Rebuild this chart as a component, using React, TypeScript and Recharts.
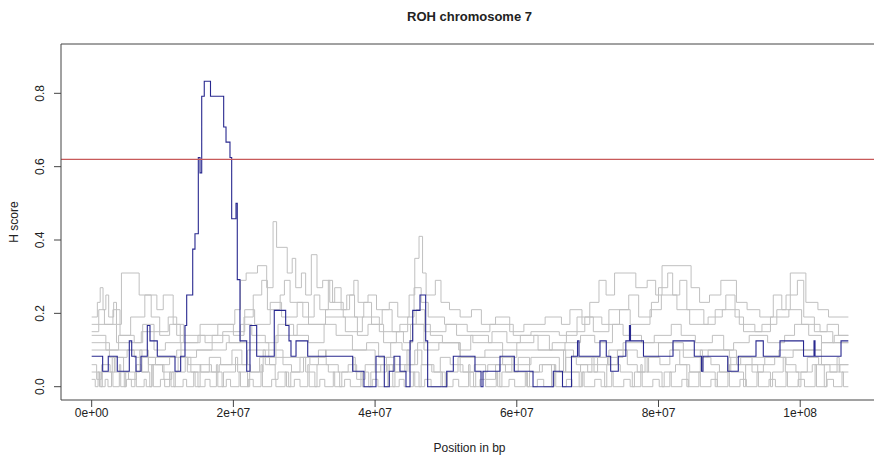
import { Line, LineChart, ReferenceLine, XAxis, YAxis } from "recharts";

// positions in Mb, values are H scores
const X_TICKS = [0, 20, 40, 60, 80, 100];
const Y_TICKS = [0, 0.2, 0.4, 0.6, 0.8];
const X_DOMAIN = [-4.33, 110.98];
const Y_DOMAIN = [-0.0363, 0.9345];
const THRESHOLD = 0.62;

const bluePos = [
  0, 1.55, 2.34, 3.61, 5.31, 5.65, 6.25, 6.96, 7.85, 8.23, 9.26, 11.76, 12.56, 13.17, 13.41, 14.26,
  14.58, 15.05, 15.29, 15.53, 15.89, 16.77, 18.63, 18.96, 19.52, 19.76, 20.37, 20.55, 20.93, 21.88,
  22.34, 23.29, 25.77, 27.38, 27.85, 28.13, 28.84, 30.49, 36.84, 38.43, 40.13, 41.3, 42.0, 42.67,
  43.51, 44.36, 44.93, 45.31, 46.34, 47.14, 47.42, 50.11, 51.04, 54.1, 54.95, 55.23, 57.63, 59.65,
  62.29, 65.15, 66.45, 67.72, 68.57, 68.78, 71.74, 72.63, 73.25, 74.33, 75.39, 75.9, 76.05, 77.88,
  82.05, 85.05, 86.07, 86.28, 89.77, 91.26, 93.76, 94.79, 97.15, 100.47, 101.95, 102.09, 105.76,
  106.79,
];
const blueVal = [
  0.083, 0.042, 0.083, 0.042, 0.125, 0.083, 0.042, 0.083, 0.167, 0.125, 0.083, 0.042, 0.083, 0.167,
  0.25, 0.375, 0.417, 0.625, 0.583, 0.792, 0.833, 0.792, 0.708, 0.667, 0.625, 0.458, 0.5, 0.292,
  0.125, 0.042, 0.167, 0.083, 0.208, 0.167, 0.125, 0.083, 0.125, 0.083, 0.042, 0, 0.083, 0, 0.042,
  0.083, 0.042, 0, 0.125, 0.208, 0.25, 0.125, 0, 0.042, 0.083, 0.042, 0, 0.042, 0.083, 0.042, 0,
  0.042, 0, 0.083, 0.125, 0.083, 0.125, 0.083, 0.042, 0.083, 0.125, 0.167, 0.125, 0.083, 0.125,
  0.083, 0.042, 0.083, 0.042, 0.083, 0.125, 0.083, 0.125, 0.083, 0.125, 0.083, 0.125, 0.125,
];

const greyAPos = [
  0, 0.8, 1.2, 1.6, 2.0, 2.4, 3.1, 3.5, 4.2, 6.7, 9.2, 10.1, 11.5, 12.5, 15.3, 20.2, 21.0, 21.8,
  23.4, 24.7, 25.6, 26.1, 27.6, 28.3, 28.8, 29.6, 30.2, 31.0, 31.8, 32.6, 33.6, 34.3, 35.2, 36.4,
  37.1, 38.4, 39.5, 41.0, 42.4, 44.0, 45.3, 46.9, 49.0, 52.0, 55.5, 58.0, 62.0, 66.0, 69.0, 73.0,
  77.0, 80.0, 83.5, 87.0, 91.0, 95.0, 99.0, 103.0, 106.8,
];
const greyAVal = [
  0.19, 0.23, 0.27, 0.21, 0.25, 0.19, 0.23, 0.17, 0.31, 0.25, 0.21, 0.25, 0.17, 0.12, 0.17, 0.21,
  0.29, 0.31, 0.33, 0.27, 0.45, 0.38, 0.31, 0.35, 0.27, 0.31, 0.25, 0.36, 0.27, 0.29, 0.23, 0.27,
  0.21, 0.25, 0.19, 0.23, 0.17, 0.21, 0.15, 0.12, 0.17, 0.1, 0.12, 0.08, 0.1, 0.06, 0.08, 0.04,
  0.06, 0.1, 0.08, 0.12, 0.08, 0.1, 0.06, 0.08, 0.1, 0.06, 0.06,
];

const greyBPos = [
  0, 2.5, 5.0, 8.0, 11.0, 14.0, 18.0, 22.0, 26.0, 29.0, 33.0, 36.0, 37.0, 37.6, 39.0, 40.2, 42.0,
  43.2, 44.8, 45.6, 46.2, 46.7, 47.2, 48.5, 49.3, 50.5, 52.0, 53.6, 55.0, 57.0, 59.0, 61.0, 64.0,
  66.3, 67.5, 69.2, 70.3, 71.6, 72.6, 73.8, 76.8, 78.4, 79.6, 80.5, 84.6, 85.8, 87.2, 88.8, 91.0,
  92.5, 94.3, 96.2, 97.4, 98.6, 100.8, 102.5, 104.0, 106.8,
];
const greyBVal = [
  0.12, 0.08, 0.1, 0.06, 0.08, 0.04, 0.06, 0.1, 0.14, 0.17, 0.21, 0.25, 0.29, 0.23, 0.25, 0.21, 0.23,
  0.19, 0.25, 0.35, 0.41, 0.31, 0.25, 0.29, 0.23, 0.21, 0.19, 0.21, 0.17, 0.19, 0.15, 0.17, 0.19,
  0.17, 0.21, 0.17, 0.23, 0.29, 0.25, 0.31, 0.27, 0.29, 0.25, 0.33, 0.27, 0.23, 0.25, 0.29, 0.23,
  0.21, 0.19, 0.25, 0.21, 0.31, 0.23, 0.21, 0.19, 0.19,
];

const greyCPos = [
  0, 1.0, 1.8, 3.0, 4.0, 5.5, 7.5, 8.4, 9.6, 11.0, 13.0, 15.0, 17.8, 20.0, 21.5, 22.8, 24.0, 24.8,
  26.6, 27.2, 28.0, 29.8, 31.4, 32.2, 33.4, 34.0, 35.5, 37.5, 39.0, 41.2, 43.0, 44.6, 45.5, 46.5,
  47.5, 49.8, 51.5, 53.8, 56.5, 58.6, 60.5, 63.0, 65.0, 67.0, 69.6, 72.0, 74.5, 75.8, 77.2, 79.0,
  80.0, 81.3, 82.0, 83.0, 84.0, 86.4, 88.0, 89.5, 90.8, 92.0, 94.6, 96.7, 98.0, 99.6, 100.5, 102.0,
  103.8, 105.4, 106.8,
];
const greyCVal = [
  0.15, 0.21, 0.17, 0.21, 0.14, 0.19, 0.25, 0.19, 0.14, 0.17, 0.12, 0.14, 0.17, 0.14, 0.19, 0.25,
  0.29, 0.21, 0.25, 0.29, 0.23, 0.19, 0.25, 0.21, 0.29, 0.23, 0.19, 0.14, 0.17, 0.12, 0.15, 0.19,
  0.27, 0.23, 0.19, 0.17, 0.14, 0.12, 0.15, 0.12, 0.14, 0.1, 0.12, 0.15, 0.19, 0.17, 0.21, 0.25,
  0.19, 0.23, 0.27, 0.31, 0.25, 0.29, 0.21, 0.17, 0.21, 0.25, 0.19, 0.15, 0.17, 0.21, 0.25, 0.29,
  0.19, 0.15, 0.17, 0.14, 0.14,
];

const greyDPos = [
  0, 2.0, 3.8, 6.0, 7.2, 8.8, 10.4, 12.6, 14.8, 17.0, 19.4, 21.0, 22.6, 24.5, 26.3, 28.5, 30.6,
  32.8, 34.5, 36.8, 38.8, 40.5, 42.2, 43.8, 45.0, 47.8, 49.5, 51.8, 53.5, 56.0, 58.0, 60.0, 62.4,
  64.6, 66.8, 69.0, 71.0, 73.5, 75.0, 77.6, 79.4, 81.8, 83.2, 85.2, 87.6, 89.2, 90.6, 92.8, 95.4,
  97.8, 99.2, 101.2, 103.0, 104.8, 106.8,
];
const greyDVal = [
  0.14, 0.1, 0.14, 0.12, 0.17, 0.1, 0.12, 0.08, 0.1, 0.14, 0.12, 0.17, 0.14, 0.12, 0.17, 0.14, 0.12,
  0.17, 0.14, 0.1, 0.12, 0.08, 0.12, 0.1, 0.17, 0.14, 0.12, 0.1, 0.14, 0.12, 0.1, 0.12, 0.14, 0.1,
  0.12, 0.14, 0.12, 0.17, 0.14, 0.12, 0.14, 0.17, 0.14, 0.12, 0.14, 0.1, 0.12, 0.14, 0.12, 0.14,
  0.17, 0.14, 0.12, 0.14, 0.14,
];

const greyEPos = [
  0, 0.7, 1.4, 2.6, 3.3, 4.5, 5.2, 6.3, 7.0, 8.0, 9.0, 10.2, 11.3, 12.2, 13.6, 15.4, 16.6, 18.2,
  19.8, 21.2, 22.4, 23.7, 25.1, 26.0, 27.0, 28.2, 29.4, 30.8, 32.0, 33.1, 34.8, 36.2, 37.4, 38.6,
  40.0, 41.6, 42.8, 44.2, 45.6, 46.6, 48.0, 49.2, 50.6, 52.4, 54.0, 55.6, 57.0, 58.4, 60.2, 61.8,
  63.6, 65.4, 66.9, 68.4, 70.0, 71.4, 72.8, 74.2, 75.6, 77.0, 78.6, 80.2, 81.6, 83.0, 84.4, 86.0,
  87.4, 88.6, 90.0, 91.6, 93.2, 94.8, 96.4, 98.0, 99.4, 101.0, 102.6, 104.2, 105.6, 106.8,
];
const greyEVal = [
  0.06, 0.02, 0.06, 0.04, 0.08, 0.04, 0.02, 0.06, 0.04, 0.08, 0.06, 0.02, 0.04, 0.08, 0.06, 0.04,
  0.08, 0.06, 0.1, 0.06, 0.04, 0.08, 0.06, 0.1, 0.06, 0.04, 0.08, 0.06, 0.1, 0.06, 0.04, 0.06, 0.02,
  0.06, 0.04, 0.08, 0.04, 0.06, 0.1, 0.06, 0.04, 0.08, 0.06, 0.04, 0.06, 0.02, 0.06, 0.04, 0.08,
  0.04, 0.06, 0.04, 0.08, 0.06, 0.04, 0.08, 0.06, 0.1, 0.06, 0.04, 0.08, 0.06, 0.1, 0.06, 0.04, 0.08,
  0.06, 0.04, 0.06, 0.08, 0.04, 0.06, 0.08, 0.06, 0.04, 0.08, 0.06, 0.04, 0.06, 0.06,
];

const greyFPos = [
  0, 0.5, 0.9, 1.1, 1.9, 2.3, 2.8, 3.0, 3.9, 4.1, 4.9, 5.6, 6.1, 6.3, 7.4, 7.7, 8.5, 8.7, 9.7, 10.3,
  11.0, 11.2, 12.9, 13.4, 14.4, 14.6, 16.0, 16.7, 17.6, 17.8, 19.0, 19.6, 20.8, 21.0, 22.1, 22.8,
  23.9, 24.1, 25.4, 26.0, 27.3, 27.5, 28.6, 29.4, 30.5, 30.7, 32.2, 32.9, 34.1, 34.3, 35.7, 36.5,
  38.0, 38.2, 39.6, 40.4, 41.8, 42.0, 43.4, 44.1, 45.4, 45.6, 47.0, 47.9, 49.3, 49.5, 51.0, 51.8,
  53.2, 53.4, 54.8, 55.6, 57.1, 57.3, 58.9, 59.7, 61.2, 61.4, 62.9, 63.8, 65.3, 65.5, 67.0, 67.8,
  69.3, 69.5, 71.0, 71.9, 73.4, 73.6, 75.1, 76.0, 77.5, 77.7, 79.2, 80.1, 81.6, 81.8, 83.3, 84.2,
  85.7, 85.9, 87.4, 88.3, 89.8, 90.0, 91.5, 92.4, 93.9, 94.1, 95.6, 96.5, 98.0, 98.2, 99.7, 100.6,
  102.1, 102.3, 103.8, 104.7, 105.9, 106.1, 106.8,
];
const greyFVal = [
  0.02, 0, 0.04, 0, 0.02, 0, 0.04, 0, 0.06, 0, 0.02, 0, 0.04, 0, 0.02, 0, 0.06, 0, 0.02, 0, 0.04, 0,
  0.02, 0, 0.04, 0, 0.02, 0, 0.06, 0, 0.02, 0, 0.04, 0, 0.02, 0, 0.06, 0, 0.02, 0, 0.04, 0, 0.02, 0,
  0.06, 0, 0.02, 0, 0.04, 0, 0.02, 0, 0.04, 0, 0.02, 0, 0.06, 0, 0.02, 0, 0.04, 0, 0.02, 0, 0.04, 0,
  0.02, 0, 0.06, 0, 0.02, 0, 0.04, 0, 0.02, 0, 0.04, 0, 0.02, 0, 0.06, 0, 0.02, 0, 0.04, 0, 0.02, 0,
  0.04, 0, 0.02, 0, 0.06, 0, 0.02, 0, 0.04, 0, 0.02, 0, 0.04, 0, 0.02, 0, 0.06, 0, 0.02, 0, 0.04, 0,
  0.02, 0, 0.04, 0, 0.02, 0, 0.06, 0, 0.02, 0, 0.04, 0, 0,
];

const greyGPos = [
  0, 1.3, 1.5, 2.9, 3.2, 4.6, 4.8, 6.8, 7.1, 8.2, 8.5, 10.0, 11.6, 11.8, 13.2, 13.5, 15.0, 15.3,
  16.9, 18.4, 18.6, 20.3, 20.6, 22.0, 22.3, 24.2, 24.5, 25.9, 26.3, 27.8, 28.1, 29.9, 30.2, 31.5,
  31.8, 33.4, 35.0, 35.3, 36.9, 37.2, 39.1, 39.4, 40.8, 42.5, 42.8, 44.5, 44.8, 46.2, 46.5, 48.3,
  49.9, 50.2, 51.7, 52.0, 53.9, 54.2, 55.9, 57.6, 57.9, 59.3, 59.6, 61.5, 61.8, 63.2, 64.9, 65.2,
  66.6, 66.9, 68.8, 69.1, 70.6, 70.9, 72.4, 72.7, 74.6, 76.3, 76.6, 78.1, 78.4, 80.5, 80.8, 82.4,
  84.0, 84.3, 85.9, 86.2, 88.0, 88.3, 89.9, 90.2, 92.0, 92.3, 94.0, 95.8, 96.1, 97.6, 97.9, 99.8,
  100.1, 101.7, 103.4, 103.7, 105.2, 105.5, 106.8,
];
const greyGVal = [
  0.04, 0, 0.04, 0.08, 0.04, 0, 0.04, 0.1, 0.04, 0, 0.06, 0.04, 0, 0.04, 0.08, 0.04, 0, 0.06, 0.04,
  0, 0.04, 0.08, 0.04, 0, 0.04, 0.1, 0.06, 0.02, 0.04, 0, 0.04, 0.08, 0.04, 0, 0.06, 0.04, 0, 0.04,
  0.08, 0.04, 0, 0.04, 0.06, 0, 0.04, 0.1, 0.04, 0, 0.06, 0.04, 0, 0.04, 0.08, 0.04, 0, 0.04, 0.06,
  0, 0.04, 0.08, 0.04, 0, 0.04, 0.06, 0, 0.04, 0.1, 0.04, 0, 0.04, 0.08, 0.04, 0, 0.06, 0.04, 0,
  0.04, 0.08, 0.04, 0, 0.04, 0.06, 0, 0.04, 0.1, 0.04, 0, 0.04, 0.08, 0.04, 0, 0.06, 0.04, 0, 0.04,
  0.08, 0.04, 0, 0.04, 0.06, 0, 0.04, 0.08, 0.04, 0.04,
];

const greyHPos = [0, 6.0, 12.0, 19.0, 25.0, 33.0, 40.0, 46.0, 52.0, 60.0, 68.0, 75.0, 82.0, 90.0, 97.0, 103.0, 106.8];
const greyHVal = [0.1, 0.08, 0.1, 0.12, 0.08, 0.1, 0.06, 0.12, 0.08, 0.1, 0.08, 0.12, 0.1, 0.08, 0.1, 0.12, 0.12];

const greyIPos = [
  0, 3.5, 7.0, 10.8, 12.0, 16.0, 18.5, 21.6, 23.0, 25.2, 26.8, 29.0, 30.6, 33.0, 35.8, 38.2, 40.6,
  43.5, 45.8, 47.0, 50.0, 53.0, 56.2, 59.5, 62.0, 66.0, 68.5, 70.8, 73.0, 76.0, 78.8, 80.4, 82.6,
  84.4, 87.0, 89.0, 91.4, 93.6, 95.8, 98.4, 100.2, 102.8, 104.6, 106.8,
];
const greyIVal = [
  0.17, 0.12, 0.15, 0.19, 0.14, 0.12, 0.15, 0.21, 0.17, 0.23, 0.19, 0.23, 0.17, 0.19, 0.15, 0.19,
  0.15, 0.17, 0.21, 0.15, 0.17, 0.15, 0.17, 0.14, 0.15, 0.14, 0.19, 0.15, 0.21, 0.17, 0.21, 0.25,
  0.21, 0.17, 0.19, 0.21, 0.17, 0.15, 0.19, 0.21, 0.17, 0.15, 0.12, 0.12,
];

const greySeries = [
  [greyHPos, greyHVal],
  [greyFPos, greyFVal],
  [greyGPos, greyGVal],
  [greyEPos, greyEVal],
  [greyDPos, greyDVal],
  [greyIPos, greyIVal],
  [greyCPos, greyCVal],
  [greyBPos, greyBVal],
  [greyAPos, greyAVal],
];

const FONT = "'Liberation Sans', Arial, sans-serif";
const INK = "#222";
const FRAME = "#444";

const toPoints = (pos: number[], val: number[]) => pos.map((x, i) => ({ x, y: val[i] }));

const formatX = (v: number) => {
  if (v === 0) return "0e+00";
  if (v >= 100) return `${v / 100}e+08`;
  return `${v / 10}e+07`;
};

function YTick({ x, y, payload }: any) {
  const tx = x - 12;
  return (
    <text
      x={tx}
      y={y}
      transform={`rotate(-90 ${tx} ${y})`}
      textAnchor="middle"
      dominantBaseline="central"
      fontSize={12}
      fontFamily={FONT}
      fill={INK}
    >
      {Number(payload.value).toFixed(1)}
    </text>
  );
}

function YLabel({ viewBox }: any) {
  const vb = viewBox ?? { x: 0, y: 44, width: 61, height: 356 };
  const cx = vb.x + 14;
  const cy = vb.y + vb.height / 2;
  return (
    <text
      x={cx}
      y={cy}
      transform={`rotate(-90 ${cx} ${cy})`}
      textAnchor="middle"
      dominantBaseline="central"
      fontSize={12}
      fontFamily={FONT}
      fill={INK}
    >
      H score
    </text>
  );
}

export default function App() {
  const blue = toPoints(bluePos, blueVal);

  return (
    <div
      style={{
        position: "absolute",
        left: 0,
        top: 0,
        width: 874,
        height: 456,
        overflow: "hidden",
        background: "#fff",
      }}
    >
      <div
        style={{
          position: "absolute",
          left: 61,
          top: 9,
          width: 817,
          textAlign: "center",
          fontFamily: FONT,
          fontWeight: 700,
          fontSize: 13,
          lineHeight: "16px",
          color: INK,
        }}
      >
        ROH chromosome 7
      </div>
      <LineChart width={890} height={456} margin={{ top: 44, right: 12, bottom: 0, left: 0 }}>
        <XAxis
          type="number"
          dataKey="x"
          domain={X_DOMAIN}
          allowDataOverflow
          ticks={X_TICKS}
          tickFormatter={formatX}
          height={56}
          tickSize={7}
          tickMargin={1}
          axisLine={{ stroke: FRAME }}
          tickLine={{ stroke: FRAME }}
          tick={{ fontSize: 12, fontFamily: FONT, fill: INK }}
          label={{
            value: "Position in bp",
            position: "insideBottom",
            offset: 4,
            fontSize: 12,
            fontFamily: FONT,
            fill: INK,
          }}
        />
        <YAxis
          type="number"
          domain={Y_DOMAIN}
          allowDataOverflow
          ticks={Y_TICKS}
          width={61}
          tickSize={7}
          tickMargin={2}
          axisLine={{ stroke: FRAME }}
          tickLine={{ stroke: FRAME }}
          tick={<YTick />}
          label={{ content: <YLabel /> }}
        />
        {greySeries.map(([pos, val], i) => (
          <Line
            key={i}
            data={toPoints(pos, val)}
            dataKey="y"
            type="stepAfter"
            stroke="#c0c0c0"
            strokeWidth={1}
            dot={false}
            activeDot={false}
            isAnimationActive={false}
          />
        ))}
        <Line
          data={blue}
          dataKey="y"
          type="stepAfter"
          stroke="#28288f"
          strokeWidth={1.1}
          dot={false}
          activeDot={false}
          isAnimationActive={false}
        />
        <ReferenceLine y={THRESHOLD} stroke="#c85a5a" strokeWidth={1.2} />
        <ReferenceLine y={Y_DOMAIN[1]} stroke={FRAME} strokeWidth={1} />
      </LineChart>
    </div>
  );
}
